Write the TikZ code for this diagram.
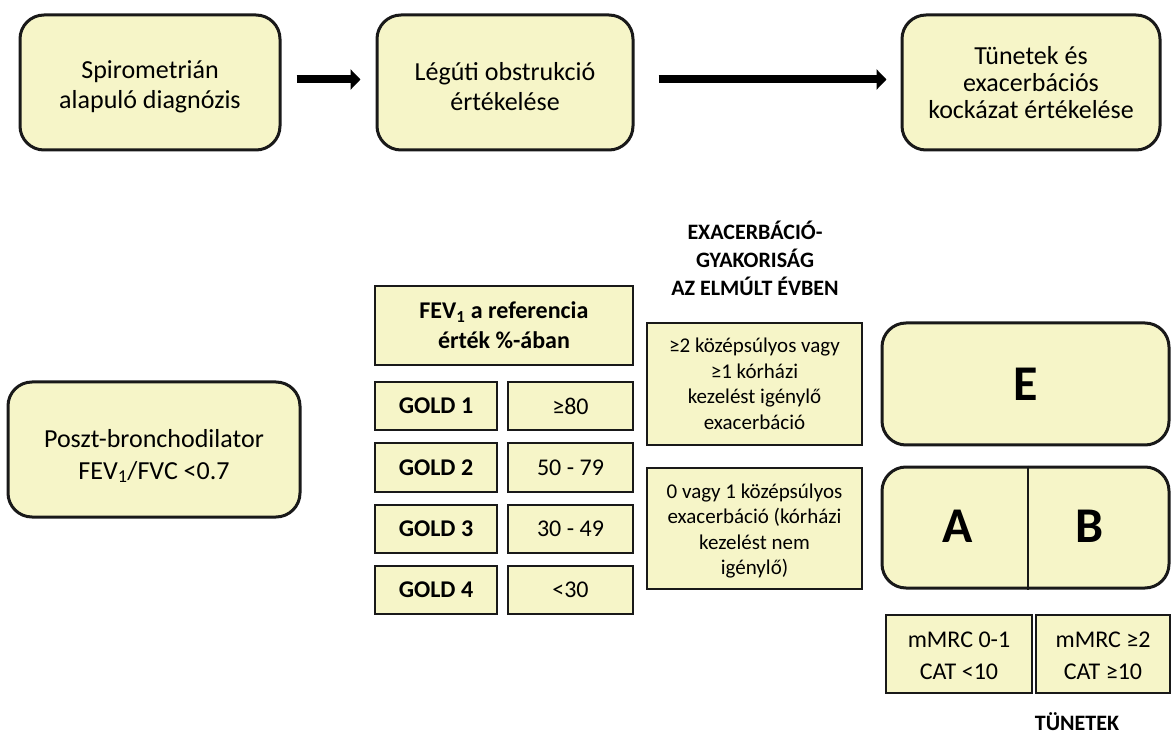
\documentclass[tikz,border=0pt]{standalone}
\usepackage{fontspec}
\setmainfont{Carlito}
\usetikzlibrary{arrows.meta}
\definecolor{boxfill}{RGB}{246,245,200}
\definecolor{edge}{RGB}{25,25,25}
\newcommand{\fs}[2]{\fontsize{#1}{#2}\selectfont}
\tikzset{
  rbox/.style={draw=edge, line width=3pt, rounded corners=24pt, fill=boxfill,
               align=center, inner sep=0pt},
  sbox/.style={draw=edge, line width=2pt, fill=boxfill, align=center, inner sep=0pt},
  flowarrow/.style={draw=black, line width=8pt, -{Triangle[length=10pt,width=20pt]}},
  heading/.style={align=center, font=\bfseries\fs{22}{28}},
}
\begin{document}
\begin{tikzpicture}[x=1pt, y=-1pt]
\useasboundingbox (0,0) rectangle (1171,735);

% top row: workflow steps
\node[rbox, minimum width=260pt, minimum height=135pt] (spiro) at (150,82.5) {};
\node[font=\fs{26}{30}, align=center] (spirotext) at (150,87) {Spirometrián\\alapuló diagnózis};
\node[rbox, minimum width=256pt, minimum height=135pt] (obstr) at (505,82.5) {};
\node[font=\fs{26}{30}, align=center] (obstrtext) at (505,87) {Légúti obstrukció\\értékelése};
\node[rbox, minimum width=258pt, minimum height=135pt, font=\fs{26}{27}] (risk) at (1031,82.5)
  {Tünetek és\\exacerbációs\\kockázat értékelése};

\draw[flowarrow, shorten <=15pt, shorten >=15pt] ([yshift=3pt]spiro.east) -- ([yshift=3pt]obstr.west);
\draw[flowarrow, shorten <=24pt, shorten >=14pt] ([yshift=3pt]obstr.east) -- ([yshift=3pt]risk.west);

% diagnosis criterion
\node[rbox, minimum width=292pt, minimum height=135pt] (post) at (154,449.5) {};
\node[font=\fs{26}{32}, align=center] (posttext) at (154,456) {Poszt-bronchodilator\\FEV\textsubscript{1}/FVC <0.7};

% GOLD spirometric grades
\node[sbox, minimum width=258pt, minimum height=79pt, font=\bfseries\fs{24}{30}] (fev) at (504,325.5)
  {FEV\textsubscript{1} a referencia\\érték \%-ában};
\foreach \g/\v/\y in {1/≥80/406, 2/50 - 79/467.5, 3/30 - 49/529, 4/<30/589.5}{
  \node[sbox, minimum width=122pt, minimum height=48pt, font=\bfseries\fs{24}{28}] (gold\g) at (436,\y) {GOLD \g};
  \node[sbox, minimum width=125pt, minimum height=48pt, font=\fs{24}{28}] (val\g) at (570.5,\y) {\v};
}

% exacerbation history
\node[heading] (exhead) at (755,258) {EXACERBÁCIÓ-\\GYAKORISÁG\\AZ ELMÚLT ÉVBEN};
\node[sbox, minimum width=215pt, minimum height=122pt, font=\fs{21}{25.5}] (exhigh) at (754.5,384)
  {≥2 középsúlyos vagy\\≥1 kórházi\\kezelést igénylő\\exacerbáció};
\node[sbox, minimum width=215pt, minimum height=121pt] (exlow) at (754.5,528.5) {};
\node[font=\fs{21}{25.5}, align=center] (exlowtext) at (754.5,531)
  {0 vagy 1 középsúlyos\\exacerbáció (kórházi\\kezelést nem\\igénylő)};

% ABE groups
\node[rbox, minimum width=287pt, minimum height=122pt, font=\bfseries\fs{50}{50}] (grpE) at (1025.5,384) {E};
\node[rbox, minimum width=287pt, minimum height=121pt] (grpAB) at (1025.5,527.5) {};
\draw[draw=edge, line width=2.5pt] (1028,0 |- grpAB.north) coordinate (divtop) -- (1028,0 |- grpAB.south) coordinate (divbot);
\node[font=\bfseries\fs{50}{50}] (grpA) at (958,526) {A};
\node[font=\bfseries\fs{50}{50}] (grpB) at (1090,526) {B};

% symptom categories
\node[sbox, minimum width=146pt, minimum height=78pt] (symlow) at (959,654) {};
\node[font=\fs{24}{32}, align=center] (symlowtext) at (959,656) {mMRC 0-1\\CAT <10};
\node[sbox, minimum width=134pt, minimum height=78pt] (symhigh) at (1103,654) {};
\node[font=\fs{24}{32}, align=center] (symhightext) at (1103,656) {mMRC ≥2\\CAT ≥10};
\node[heading, inner sep=0pt] (symhead) at (1077,722) {TÜNETEK};
\end{tikzpicture}
\end{document}
